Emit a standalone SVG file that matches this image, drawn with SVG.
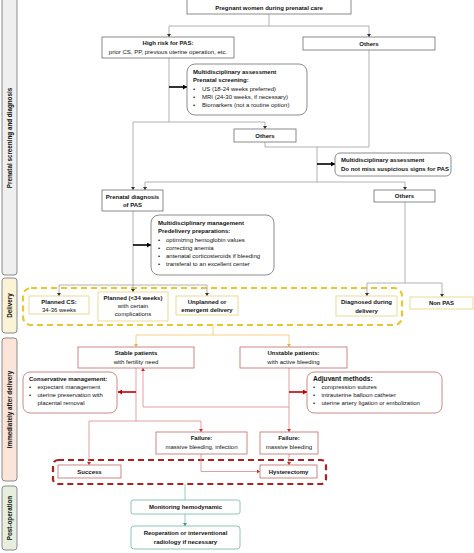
<svg xmlns="http://www.w3.org/2000/svg" width="474" height="553" viewBox="0 0 474 553">
<defs>
<style>
text{font-family:"Liberation Sans",Arial,sans-serif;font-size:6px;fill:#111}
.b{font-weight:bold}
.m{text-anchor:middle}
.side{font-weight:bold;font-size:6.3px;text-anchor:middle}
.gbox{fill:#fff;stroke:#6e6e6e;stroke-width:0.8}
.ybox{fill:#fff;stroke:#e6d27a;stroke-width:0.8}
.rbox{fill:#fff;stroke:#c06a6a;stroke-width:0.8}
.grbox{fill:#fff;stroke:#7fbfa8;stroke-width:0.9}
.cg{fill:none;stroke:#a0a0a0;stroke-width:0.8}
.ck{fill:none;stroke:#000;stroke-width:1.6}
.cy{fill:none;stroke:#f2c46a;stroke-width:0.8}
.cr{fill:none;stroke:#d98a8a;stroke-width:0.8}
.crt{fill:none;stroke:#c00000;stroke-width:1.6}
.cgr{fill:none;stroke:#7fbfa8;stroke-width:0.8}
</style>
<marker id="aG" markerUnits="userSpaceOnUse" markerWidth="4" markerHeight="4" refX="3" refY="2" orient="auto"><path d="M0,0 L3,2 L0,4 z" fill="#333"/></marker>
<marker id="aK" markerUnits="userSpaceOnUse" markerWidth="5" markerHeight="5" refX="4" refY="2.5" orient="auto"><path d="M0,0 L4,2.5 L0,5 z" fill="#000"/></marker>
<marker id="aY" markerUnits="userSpaceOnUse" markerWidth="4" markerHeight="4" refX="3" refY="2" orient="auto"><path d="M0,0 L3,2 L0,4 z" fill="#e8b040"/></marker>
<marker id="aR" markerUnits="userSpaceOnUse" markerWidth="4" markerHeight="4" refX="3" refY="2" orient="auto"><path d="M0,0 L3,2 L0,4 z" fill="#c03030"/></marker>
<marker id="aRT" markerUnits="userSpaceOnUse" markerWidth="5" markerHeight="5" refX="4" refY="2.5" orient="auto"><path d="M0,0 L4,2.5 L0,5 z" fill="#c00000"/></marker>
<marker id="aGr" markerUnits="userSpaceOnUse" markerWidth="4" markerHeight="4" refX="3" refY="2" orient="auto"><path d="M0,0 L3,2 L0,4 z" fill="#3a9a78"/></marker>
</defs>
<rect width="474" height="553" fill="#fff"/>

<!-- side bands -->
<g id="band-prenatal"><rect x="2" y="-4" width="15" height="279" rx="3" fill="#efefef" stroke="#8a8a8a" stroke-width="1"/><text class="side" transform="translate(11.7,138) rotate(-90)">Prenatal screening and diagnosis</text></g>
<g id="band-delivery"><rect x="2" y="278" width="15" height="55" rx="3" fill="#fbf3d6" stroke="#8a8a8a" stroke-width="1"/><text class="side" transform="translate(11.7,305.5) rotate(-90)">Delivery</text></g>
<g id="band-after"><rect x="2" y="338" width="15" height="143" rx="3" fill="#fbe4d8" stroke="#8a8a8a" stroke-width="1"/><text class="side" transform="translate(11.7,409.5) rotate(-90)">Immediately after delivery</text></g>
<g id="band-post"><rect x="2" y="486" width="15" height="64" rx="3" fill="#e6efdd" stroke="#8a8a8a" stroke-width="1"/><text class="side" transform="translate(11.7,518) rotate(-90)">Post-operation</text></g>

<!-- group boundaries -->
<rect id="delivery-group" x="23" y="288" width="379" height="37" rx="8" fill="none" stroke="#e8c630" stroke-width="2.2" stroke-dasharray="6,4"/>
<rect id="outcome-group" x="53" y="460" width="273" height="24" rx="5" fill="none" stroke="#b01e1e" stroke-width="2.2" stroke-dasharray="6,4"/>

<g id="connectors">
<path class="cg" d="M269,14 V26 M169,26 H369"/>
<path class="cg" d="M169,26 V37" marker-end="url(#aG)"/>
<path class="cg" d="M369,26 V37" marker-end="url(#aG)"/>
<path class="cg" d="M169,58 V122 M133,122 H265"/>
<path class="cg" d="M265,122 V129" marker-end="url(#aG)"/>
<path class="cg" d="M133,122 V190" marker-end="url(#aG)"/>
<path class="cg" d="M369,50 V147 M265,142 V147 H369 M317,147 V182 M145,182 H405"/>
<path class="cg" d="M145,182 V190" marker-end="url(#aG)"/>
<path class="cg" d="M405,182 V190" marker-end="url(#aG)"/>
<path class="cg" d="M133,211 V292" marker-end="url(#aG)"/>
<path class="cg" d="M59,285 H207"/>
<path class="cg" d="M59,285 V296" marker-end="url(#aG)"/>
<path class="cg" d="M207,285 V296" marker-end="url(#aG)"/>
<path class="cg" d="M405,202 V283 M367,283 H442"/>
<path class="cg" d="M367,283 V296" marker-end="url(#aG)"/>
<path class="cg" d="M442,283 V297" marker-end="url(#aG)"/>
<path class="ck" d="M169,87 H187" marker-end="url(#aK)"/>
<path class="ck" d="M317,164 H335" marker-end="url(#aK)"/>
<path class="ck" d="M133,245 H151" marker-end="url(#aK)"/>
<path class="cy" d="M213,325 V335 M136,335 H289"/>
<path class="cy" d="M136,335 V347" marker-end="url(#aY)"/>
<path class="cy" d="M289,335 V347" marker-end="url(#aY)"/>
<path class="cr" d="M136,368 V421 M89,421 H201"/>
<path class="cr" d="M89,421 V465" marker-end="url(#aR)"/>
<path class="cr" d="M201,421 V432" marker-end="url(#aR)"/>
<path class="cr" d="M289,368 V432" marker-end="url(#aR)"/>
<path class="cr" d="M289,407 H143 V368" marker-end="url(#aR)"/>
<path class="cr" d="M201,454 V471.5 H260" marker-end="url(#aR)"/>
<path class="cr" d="M289,454 V465" marker-end="url(#aR)"/>
<path class="crt" d="M136,392 H118" marker-end="url(#aRT)"/>
<path class="crt" d="M289,392 H307" marker-end="url(#aRT)"/>
<path class="cgr" d="M185,484 V500"/>
<path class="cgr" d="M185,514 V526" marker-end="url(#aGr)"/>
</g>

<!-- prenatal nodes -->
<g id="n-pregnant"><rect class="gbox" x="187" y="-2" width="164" height="16"/><rect x="187" y="-2" width="164" height="2" fill="#555"/><text class="b m" x="269" y="9.5">Pregnant women during prenatal care</text></g>
<g id="n-highrisk"><rect class="gbox" x="102" y="37" width="132" height="21"/><text class="b m" x="168" y="45">High risk for PAS:</text><text class="m" x="168" y="54">prior CS, PP, previous uterine operation, etc.</text></g>
<g id="n-others1"><rect class="gbox" x="303" y="37" width="132" height="13"/><text class="b m" x="369" y="45.5">Others</text></g>
<g id="n-mda1"><rect class="gbox" x="187" y="64" width="120" height="51" rx="8"/><text class="b" x="193" y="74">Multidisciplinary assessment</text><text class="b" x="193" y="82">Prenatal screening:</text><text x="193" y="90.5">•</text><text x="202" y="90.5">US (18-24 weeks preferred)</text><text x="193" y="98.5">•</text><text x="202" y="98.5">MRI (24-30 weeks, if necessary)</text><text x="193" y="106.5">•</text><text x="202" y="106.5">Biomarkers (not a routine option)</text></g>
<g id="n-others2"><rect class="gbox" x="234" y="129" width="62" height="13"/><text class="b m" x="265" y="137.5">Others</text></g>
<g id="n-mda2"><rect class="gbox" x="335" y="153" width="116" height="23" rx="5"/><text class="b" x="341" y="162">Multidisciplinary assessment</text><text class="b" x="341" y="170.5">Do not miss suspicious signs for PAS</text></g>
<g id="n-prendiag"><rect class="gbox" x="102" y="190" width="61" height="21"/><text class="b m" x="132.5" y="198.5">Prenatal diagnosis</text><text class="b m" x="132.5" y="207">of PAS</text></g>
<g id="n-others3"><rect class="gbox" x="374" y="190" width="61" height="12"/><text class="b m" x="404.5" y="198">Others</text></g>
<g id="n-mdm"><rect class="gbox" x="151" y="215" width="123" height="60" rx="8"/><text class="b" x="158" y="225">Multidisciplinary management</text><text class="b" x="158" y="233">Predelivery preparations:</text><text x="158" y="241.5">•</text><text x="166" y="241.5">optimizing hemoglobin values</text><text x="158" y="249.5">•</text><text x="166" y="249.5">correcting anemia</text><text x="158" y="257.5">•</text><text x="166" y="257.5">antenatal corticosteroids if bleeding</text><text x="158" y="265.5">•</text><text x="166" y="265.5">transferal to an excellent center</text></g>

<!-- delivery nodes -->
<g id="n-plannedcs"><rect class="ybox" x="29" y="296" width="60" height="18"/><text class="b m" x="59" y="303.5">Planned CS:</text><text class="m" x="59" y="311.5">34-36 weeks</text></g>
<g id="n-planned34"><rect class="ybox" x="98" y="292" width="70" height="29"/><text class="b m" x="133" y="300">Planned (&lt;34 weeks)</text><text class="m" x="133" y="308">with certain</text><text class="m" x="133" y="316">complications</text></g>
<g id="n-unplanned"><rect class="ybox" x="176" y="296" width="62" height="19"/><text class="b m" x="207" y="303.5">Unplanned or</text><text class="b m" x="207" y="312">emergent delivery</text></g>
<g id="n-diagdel"><rect class="ybox" x="336" y="296" width="61" height="20"/><text class="b m" x="366.5" y="304">Diagnosed during</text><text class="b m" x="366.5" y="312.5">delivery</text></g>
<g id="n-nonpas"><rect class="ybox" x="410" y="297" width="63" height="12"/><text class="b m" x="441.5" y="305">Non PAS</text></g>

<!-- after delivery nodes -->
<g id="n-stable"><rect class="rbox" x="78" y="347" width="116" height="21"/><text class="b m" x="136" y="355">Stable patients</text><text class="m" x="136" y="363.5">with fertility need</text></g>
<g id="n-unstable"><rect class="rbox" x="240" y="347" width="107" height="21"/><text class="b m" x="293.5" y="355">Unstable patients:</text><text class="m" x="293.5" y="363.5">with active bleeding</text></g>
<g id="n-conservative"><rect class="rbox" x="23" y="372" width="94" height="41" rx="7"/><text class="b" x="29" y="381">Conservative management:</text><text x="29" y="389">•</text><text x="37.5" y="389">expectant management</text><text x="29" y="397">•</text><text x="37.5" y="397">uterine preservation with</text><text x="37.5" y="405">placental removal</text></g>
<g id="n-adjuvant"><rect class="rbox" x="307" y="372" width="135" height="41" rx="7"/><text class="b" x="313" y="381" style="font-size:6.6px">Adjuvant methods:</text><text x="313" y="389">•</text><text x="321.5" y="389">compression sutures</text><text x="313" y="397">•</text><text x="321.5" y="397">intrauterine balloon catheter</text><text x="313" y="405">•</text><text x="321.5" y="405">uterine artery ligation or embolization</text></g>
<g id="n-failure1"><rect class="rbox" x="156" y="432" width="91" height="22"/><text class="b m" x="201.5" y="440">Failure:</text><text class="m" x="201.5" y="449">massive bleeding, infection</text></g>
<g id="n-failure2"><rect class="rbox" x="260" y="432" width="58" height="22"/><text class="b m" x="289" y="440">Failure:</text><text class="m" x="289" y="449">massive bleeding</text></g>
<g id="n-success"><rect class="rbox" x="58" y="465" width="63" height="13"/><text class="b m" x="89.5" y="473.5">Success</text></g>
<g id="n-hysterectomy"><rect class="rbox" x="260" y="465" width="57" height="13"/><text class="b m" x="288.5" y="473.5">Hysterectomy</text></g>

<!-- post-operation nodes -->
<g id="n-monitor"><rect class="grbox" x="131" y="500" width="109" height="14" rx="2"/><text class="b m" x="185.5" y="509">Monitoring hemodynamic</text></g>
<g id="n-reop"><rect class="grbox" x="131" y="526" width="109" height="23" rx="3"/><text class="b m" x="185.5" y="535">Reoperation or interventional</text><text class="b m" x="185.5" y="543.5">radiology if necessary</text></g>
</svg>
